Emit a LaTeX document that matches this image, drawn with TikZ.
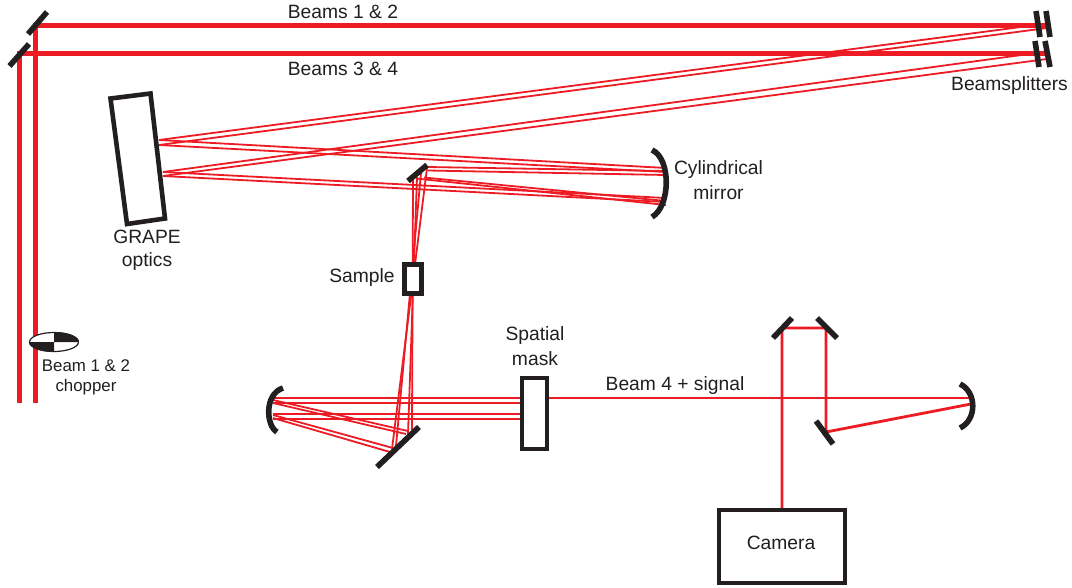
\documentclass[tikz,border=0pt]{standalone}
\usepackage{fontspec}
\setmainfont{Liberation Sans}
\usepackage{tikz}

\begin{document}
\begin{tikzpicture}[x=0.25mm, y=-0.25mm]
        \definecolor{beamred}{RGB}{237,28,36}
        \definecolor{opticblack}{RGB}{35,31,32}
        \tikzset{
            beam/.style={draw=beamred, line width=1.25mm},
            midbeam/.style={draw=beamred, line width=0.7mm},
            thinbeam/.style={draw=beamred, line width=0.45mm},
            optic/.style={draw=opticblack, line width=1.4mm},
            optbox/.style={draw=opticblack, fill=white, line width=1.15mm},
            lbl/.style={text=opticblack, inner sep=0pt, font=\fontsize{13.7pt}{16pt}\selectfont},
            smalllbl/.style={text=opticblack, inner sep=0pt, font=\fontsize{12pt}{14pt}\selectfont}
        }
        \useasboundingbox (0,0) rectangle (1072,587);

        % Coordinates
        \coordinate (A) at (35, 403);
        \coordinate (B) at (35, 25);
        \coordinate (C) at (1047, 25);
        \coordinate (D) at (19.5, 403);
        \coordinate (E) at (19.5, 53);
        \coordinate (F) at (1047, 53);
        \coordinate (G1) at (159, 140);
        \coordinate (G2) at (159, 145);
        \coordinate (G3) at (163, 172);
        \coordinate (G4) at (163, 176);
        \coordinate (H1) at (1036, 25);
        \coordinate (H2) at (1047, 28);
        \coordinate (H3) at (1036, 53);
        \coordinate (H4) at (1047, 59);
        \coordinate (J1) at (666, 168);
        \coordinate (J2) at (666, 172);
        \coordinate (J3) at (666, 198);
        \coordinate (J4) at (666, 202);
        \coordinate (Q1) at (666, 171);
        \coordinate (Q2) at (666, 175);
        \coordinate (Q3) at (666, 201);
        \coordinate (Q4) at (666, 205);
        \coordinate (S1) at (428, 167);
        \coordinate (S2) at (428, 170.5);
        \coordinate (S3) at (424, 177.5);
        \coordinate (S4) at (416, 178.5);
        \coordinate (K1) at (427, 168);
        \coordinate (K2) at (421, 173);
        \coordinate (K3) at (417, 177);
        \coordinate (K4) at (413, 180);
        \coordinate (L1) at (392, 449);
        \coordinate (L2) at (396, 446);
        \coordinate (L3) at (408, 434);
        \coordinate (L4) at (412, 430);
        \coordinate (R1) at (408, 431);
        \coordinate (R2) at (406, 434);
        \coordinate (R3) at (393, 448);
        \coordinate (R4) at (390, 452);
        \coordinate (M1) at (273, 400);
        \coordinate (M2) at (273, 403);
        \coordinate (M3) at (273, 415);
        \coordinate (M4) at (273, 418);
        \coordinate (N1) at (521, 398);
        \coordinate (N2) at (521, 403);
        \coordinate (N3) at (521, 414);
        \coordinate (N4) at (521, 419);
        \coordinate (P1) at (549, 398);
        \coordinate (P2) at (971, 398);
        \coordinate (P3) at (971, 404);
        \coordinate (P4) at (826, 432);
        \coordinate (P5) at (826, 328);
        \coordinate (P6) at (782, 328);
        \coordinate (P7) at (782, 508);

        % Beams
        \draw[beam] (A) -- (B) -- (C);
        \draw[beam] (D) -- (E) -- (F);
        \draw[thinbeam] (G1) -- (H1);
        \draw[thinbeam] (G2) -- (H2);
        \draw[thinbeam] (G3) -- (H3);
        \draw[thinbeam] (G4) -- (H4);
        \draw[thinbeam] (G1) -- (J1);
        \draw[thinbeam] (G2) -- (J2);
        \draw[thinbeam] (G3) -- (J3);
        \draw[thinbeam] (G4) -- (J4);
        \draw[thinbeam] (Q1) -- (S1);
        \draw[thinbeam] (Q2) -- (S2);
        \draw[thinbeam] (Q3) -- (S3);
        \draw[thinbeam] (Q4) -- (S4);
        \draw[thinbeam] (K1) -- (L1);
        \draw[thinbeam] (K2) -- (L2);
        \draw[thinbeam] (K3) -- (L3);
        \draw[thinbeam] (K4) -- (L4);
        \draw[thinbeam] (R1) -- (M1);
        \draw[thinbeam] (R2) -- (M2);
        \draw[thinbeam] (R3) -- (M3);
        \draw[thinbeam] (R4) -- (M4);
        \draw[thinbeam] (N1 -| M1) -- (N1);
        \draw[thinbeam] (N2 -| M1) -- (N2);
        \draw[thinbeam] (N3 -| M1) -- (N3);
        \draw[thinbeam] (N4 -| M1) -- (N4);
        \draw[midbeam] (P1) -- (P2);
        \draw[midbeam] (P3) -- (P4) -- (P5) -- (P6) -- (P7);

        % Flat mirrors
        \draw[optic] (28, 34) -- (47, 12);
        \draw[optic] (9.5, 66) -- (29, 44);
        \draw[optic] (1036, 11) -- (1040, 37);
        \draw[optic] (1046, 11) -- (1050, 37);
        \draw[optic] (1035, 41) -- (1039, 67);
        \draw[optic] (1045, 41) -- (1050, 67);
        \draw[optic] (408, 181) -- (427, 165);
        \draw[optic] (377, 467) -- (419, 427);
        \draw[optic] (816, 421) -- (833, 444);
        \draw[optic] (817, 318) -- (837, 338);
        \draw[optic] (773, 338) -- (792, 318);

        % Curved mirrors
        \draw[optic] (652, 150) .. controls (671, 158) and (671, 206) .. (652, 217);
        \draw[optic] (283, 388) .. controls (264, 394) and (266, 426) .. (277, 432);
        \draw[optic] (960, 384) .. controls (977, 392) and (977, 420) .. (960, 428);

        % Boxes
        \draw[optbox] (110.5, 98.5) -- (150.5, 93.5) -- (165, 218.5) -- (127, 224) -- cycle;
        \draw[optbox] (404.5, 264.5) rectangle (421.5, 293.5);
        \draw[optbox] (522, 378) rectangle (547, 449);
        \draw[optbox] (719, 510) rectangle (845, 583);

        % Chopper
        \draw[draw=opticblack, fill=white, line width=0.3mm] (54, 342) ellipse (24.5 and 9.5);
        \fill[opticblack] (54, 342) -- (54, 332) arc (-90:0:25 and 10) -- cycle;
        \fill[opticblack] (54, 342) -- (29, 342) arc (180:90:25 and 10) -- cycle;

        % Labels
        \node[lbl] (beams12) at (343, 12) {Beams 1 \& 2};
        \node[lbl] (beams34) at (343, 69) {Beams 3 \& 4};
        \node[lbl] (splitters) at (1009.5, 86) {Beamsplitters};
        \node[lbl] (cyl) at (718.5, 170) {Cylindrical};
        \node[lbl] (cylb) at (718.5, 193) {mirror};
        \node[lbl] (grape) at (147, 237) {GRAPE};
        \node[lbl] (grapeb) at (147, 262) {optics};
        \node[lbl] (sample) at (362, 278) {Sample};
        \node[lbl] (mask) at (535, 336) {Spatial};
        \node[lbl] (maskb) at (535, 359) {mask};
        \node[lbl] (signal) at (675, 386) {Beam 4 + signal};
        \node[lbl] (camera) at (781, 543) {Camera};
        \node[smalllbl] (chopper) at (86, 366) {Beam 1 \& 2};
        \node[smalllbl] (chopperb) at (86, 387) {chopper};
\end{tikzpicture}
\end{document}
